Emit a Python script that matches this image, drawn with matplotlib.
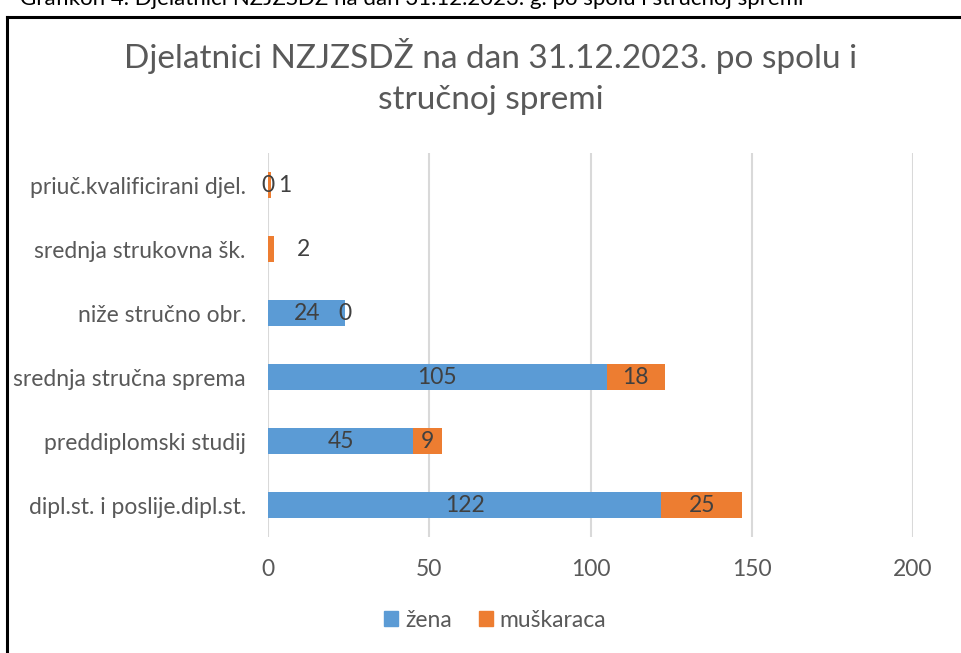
import matplotlib
matplotlib.use("Agg")
import matplotlib.pyplot as plt
from matplotlib.lines import Line2D
from matplotlib.patches import Patch

plt.rcParams['font.family'] = ['Lato', 'DejaVu Sans']

categories = ['priuč.kvalificirani djel.', 'srednja strukovna šk.', 'niže stručno obr.',
              'srednja stručna sprema', 'preddiplomski studij', 'dipl.st. i poslije.dipl.st.']
zena = [0, 0, 24, 105, 45, 122]
muskarci = [1, 2, 0, 18, 9, 25]
# which labels are shown, and small sideways nudges (points) for the tiny segments
zena_show = [True, False, True, True, True, True]
muski_nudge = [11, 23, 0, 0, 0, 0]

blue = '#5B9BD5'
orange = '#ED7D31'
txt = '#404040'

fig = plt.figure(figsize=(9.62, 6.53), dpi=100)
ax = fig.add_axes([0.2786, 0.1776, 0.6705, 0.5881])

y = list(range(len(categories)))
ax.barh(y, zena, height=0.41, color=blue, label='žena', zorder=3)
ax.barh(y, muskarci, left=zena, height=0.41, color=orange, label='muškaraca', zorder=3)

for i in y:
    if zena_show[i]:
        ax.annotate(str(zena[i]), (zena[i] / 2, i), ha='center', va='center',
                    fontsize=16.5, color=txt, zorder=4)
    ax.annotate(str(muskarci[i]), (zena[i] + muskarci[i] / 2, i),
                xytext=(muski_nudge[i], 0), textcoords='offset points',
                ha='center', va='center', fontsize=16.5, color=txt, zorder=4)

ax.set_xlim(0, 200)
ax.set_ylim(len(categories) - 0.5, -0.5)
ax.set_xticks([0, 50, 100, 150, 200])
ax.set_yticks(y)
ax.set_yticklabels(categories)
ax.tick_params(axis='both', length=0, labelsize=16.5, colors='#595959')
ax.tick_params(axis='x', pad=16)
ax.tick_params(axis='y', pad=16)
ax.grid(axis='x', color='#D9D9D9', linewidth=1.5, zorder=0)
for s in ax.spines.values():
    s.set_visible(False)

fig.text(0.51, 0.883, 'Djelatnici NZJZSDŽ na dan 31.12.2023. po spolu i\nstručnoj spremi',
         ha='center', va='center', fontsize=24, color='#595959', linespacing=1.45)

# caption above the chart box, cut by the top edge as in the source
fig.text(0.021, 1 - 5 / 653, 'Grafikon 4. Djelatnici NZJZSDŽ na dan 31.12.2023. g. po spolu i stručnoj spremi',
         ha='left', va='baseline', fontsize=16, color='black')

handles = [Patch(color=blue, label='žena'), Patch(color=orange, label='muškaraca')]
fig.legend(handles=handles, loc='center', bbox_to_anchor=(0.515, 0.05), ncol=2,
           frameon=False, fontsize=16.5, handlelength=0.6, handleheight=0.6,
           handletextpad=0.3, columnspacing=1.2, labelcolor='#595959')

# chart frame (left and top edges visible)
fig.add_artist(Line2D([0.0075, 0.0075], [0.0, 0.974], color='black', linewidth=2.2))
fig.add_artist(Line2D([0.0075, 1.0], [0.974, 0.974], color='black', linewidth=2.2))

fig.savefig('out.png', dpi=100)
